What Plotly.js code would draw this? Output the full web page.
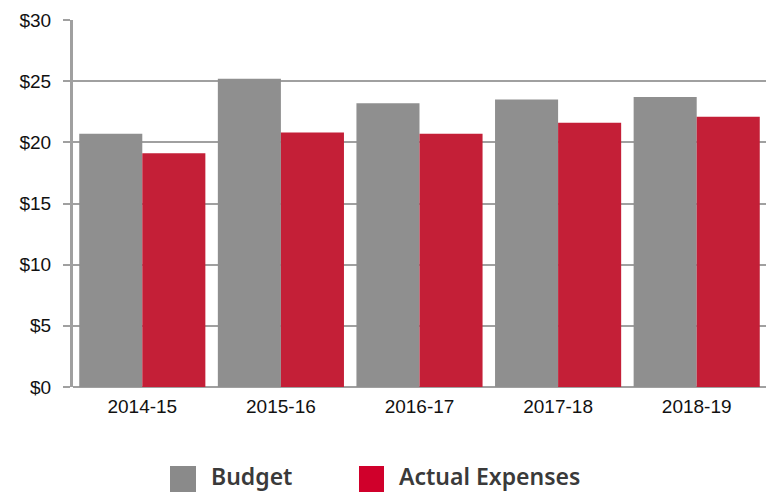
<!DOCTYPE html>
<html>
<head>
<meta charset="utf-8">
<script src="https://cdn.plot.ly/plotly-3.0.1.min.js"></script>
<style>html,body{margin:0;padding:0;background:#fff;}#chart{width:770px;height:492px;}</style>
</head>
<body>
<div id="chart"></div>
<script>
const categories = ["2014-15", "2015-16", "2016-17", "2017-18", "2018-19"];
const budget = [20.7, 25.2, 23.2, 23.5, 23.7];
const actualExpenses = [19.1, 20.8, 20.7, 21.6, 22.1];
const seriesNames = ["Budget", "Actual Expenses"];
const barColors = ["#8f8f8f", "#c41f37"];
const legendColors = ["#8a8a8a", "#d0002b"];

const W = 770, H = 492;
const M = {l: 73, r: 4, t: 20, b: 105};
const pw = W - M.l - M.r, ph = H - M.t - M.b;
const px = x => (x - M.l) / pw;
const py = y => (H - M.b - y) / ph;

const traces = [
  {type: "bar", x: categories, y: budget, name: seriesNames[0], marker: {color: barColors[0]}, hoverinfo: "y"},
  {type: "bar", x: categories, y: actualExpenses, name: seriesNames[1], marker: {color: barColors[1]}, hoverinfo: "y"}
];

const legendItems = [
  {x0: 170, x1: 196, tx: 209, color: legendColors[0], text: seriesNames[0]},
  {x0: 359, x1: 384, tx: 397, color: legendColors[1], text: seriesNames[1]}
];

const shapes = legendItems.map(it => ({
  type: "rect", xref: "paper", yref: "paper",
  x0: px(it.x0), x1: px(it.x1), y0: py(466), y1: py(492),
  fillcolor: it.color, line: {width: 0}
}));
const annotations = legendItems.map(it => ({
  xref: "paper", yref: "paper", x: px(it.tx), y: py(476),
  xanchor: "left", yanchor: "middle", showarrow: false,
  text: it.text, font: {family: "Noto Sans", size: 23, color: "#3a3a3a", weight: 600}
}));

const layout = {
  width: W, height: H,
  margin: M,
  paper_bgcolor: "#fff", plot_bgcolor: "#fff",
  barmode: "group", bargap: 0.09, bargroupgap: 0,
  showlegend: false,
  font: {family: "Liberation Sans, Arial, sans-serif", color: "#111"},
  xaxis: {
    type: "category", showgrid: false, zeroline: false,
    showline: false, ticks: "",
    tickfont: {family: "Liberation Sans, Arial, sans-serif", size: 19, color: "#111"},
    ticklabelstandoff: 6
  },
  yaxis: {
    range: [0, 30], dtick: 5, tickprefix: "$",
    showgrid: true, gridcolor: "#a0a0a0", gridwidth: 2,
    zeroline: true, zerolinecolor: "#a0a0a0", zerolinewidth: 2,
    showline: true, linecolor: "#a0a0a0", linewidth: 3,
    ticks: "outside", ticklen: 7, tickcolor: "#a0a0a0", tickwidth: 2,
    tickfont: {family: "Liberation Sans, Arial, sans-serif", size: 19, color: "#111"},
    ticklabelstandoff: 8
  },
  shapes: shapes,
  annotations: annotations
};

Plotly.newPlot("chart", traces, layout, {displayModeBar: false, staticPlot: true});
</script>
</body>
</html>
